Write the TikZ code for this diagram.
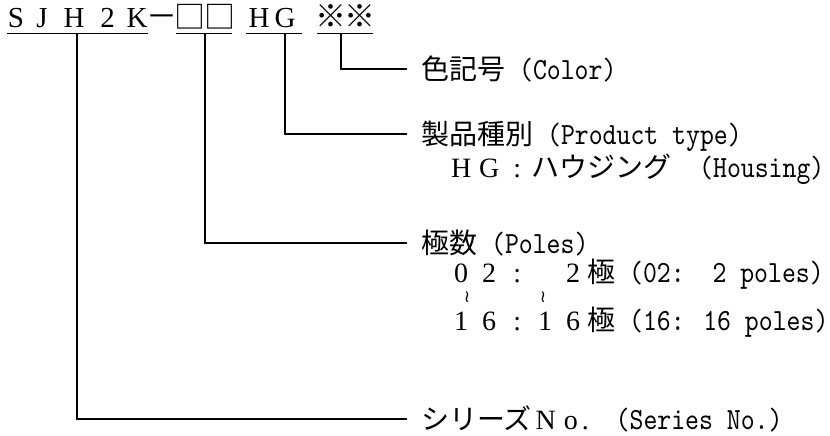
\documentclass[tikz,border=0pt]{standalone}
\usepackage{fontspec}
\newfontfamily\jpfont{Noto Sans CJK JP}
\newfontfamily\serfont{Liberation Serif}
\newfontfamily\monoL{lmmono10-regular}[Extension=.otf,FakeStretch=0.86,Scale=1.1]
\newfontfamily\djvfont{DejaVu Sans}
\newlength\cw \setlength\cw{28pt}
\newcommand\fw[1]{\makebox[\cw][c]{\serfont #1}}
\newcommand\hw[1]{{\monoL #1}}
\newcommand\zsp{\hspace*{\cw}}
\tikzset{
  lbl/.style={anchor=base west, inner sep=0pt, font=\fontsize{28}{33}\selectfont\jpfont},
  ttl/.style={anchor=base, inner sep=0pt, font=\fontsize{29}{34}\selectfont\serfont},
  ttlj/.style={anchor=base, inner sep=0pt, font=\fontsize{31}{36}\selectfont\jpfont},
  conn/.style={line width=1.6pt},
  uline/.style={line width=1.6pt},
  tld/.style={anchor=center, inner sep=0pt, font=\fontsize{17}{18}\selectfont\djvfont}
}
\begin{document}
\begin{tikzpicture}[x=1pt,y=1pt]
\useasboundingbox (0,0) rectangle (830,-436);
% title
\node[ttl] (tS) at (16,-28) {S};
\node[ttl] (tJ) at (42,-28) {J};
\node[ttl] (tH) at (74,-28) {H};
\node[ttl] (t2) at (107.5,-28) {2};
\node[ttl] (tK) at (137,-28) {K};
\node[ttlj] (tdash) at (162,-28) {－};
\node[ttlj] (tbox1) at (190,-29) {□};
\node[ttlj] (tbox2) at (219.5,-29) {□};
\node[ttl] (tH2) at (259,-28) {H};
\node[ttl] (tG) at (285,-28) {G};
\node[ttlj] (tk1) at (330.5,-28) {※};
\node[ttlj] (tk2) at (359.5,-28) {※};
% underlines
\coordinate (u1a) at (7,-33.5);   \coordinate (u1b) at (148,-33.5);
\coordinate (u2a) at (176,-33.5); \coordinate (u2b) at (232,-33.5);
\coordinate (u3a) at (246,-33.5); \coordinate (u3b) at (302,-33.5);
\coordinate (u4a) at (317,-33.5); \coordinate (u4b) at (373,-33.5);
\draw[uline] (u1a) -- (u1b);
\draw[uline] (u2a) -- (u2b);
\draw[uline] (u3a) -- (u3b);
\draw[uline] (u4a) -- (u4b);
% junctions and ends
\coordinate (j1) at (77,-33.5);
\coordinate (j2) at (205,-33.5);
\coordinate (j3) at (285,-33.5);
\coordinate (j4) at (341,-33.5);
\coordinate (e4) at (407,-69);
\coordinate (e3) at (407,-134);
\coordinate (e2) at (407,-243);
\coordinate (e1) at (407,-419);
\draw[conn] (j4) |- (e4);
\draw[conn] (j3) |- (e3);
\draw[conn] (j2) |- (e2);
\draw[conn] (j1) |- (e1);
% labels
\node[lbl] (lcolor) at (421,-79) {色記号\hw{\ (Color)}};
\node[lbl] (lprod) at (421,-144) {製品種別\hw{\ (Product type)}};
\node[lbl] (lprod2) at (447,-177) {\fw{H}\fw{G}\fw{:}ハウジング\zsp\hw{(Housing)}};
\node[lbl] (lpoles) at (421,-253) {極数\hw{\ (Poles)}};
\node[lbl] (lp1) at (447,-282) {\fw{0}\fw{2}\fw{:}\zsp\fw{2}極\hw{\ (02:\ \ 2 poles)}};
\node[tld] (tl1) at (467,-297) {≀};
\node[tld] (tl2) at (543,-297) {≀};
\node[lbl] (lp2) at (447,-330) {\fw{1}\fw{6}\fw{:}\fw{1}\fw{6}極\hw{\ (16: 16 poles)}};
\node[lbl] (lser) at (421,-429) {シリーズ\fw{N}\makebox[22pt][c]{\serfont o}\makebox[20pt][l]{\serfont .}\hw{\ (Series No.)}};
\end{tikzpicture}
\end{document}
